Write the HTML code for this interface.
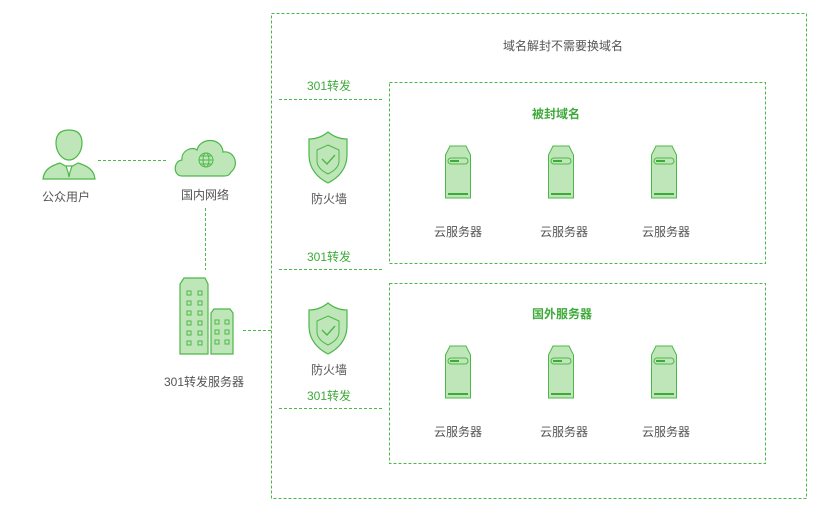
<!DOCTYPE html>
<html><head><meta charset="utf-8"><style>
html,body{margin:0;padding:0;background:#fff;}
svg{display:block;}
text{font-family:"Liberation Sans","Noto Sans CJK SC",sans-serif;font-size:12px;fill:#555;text-anchor:middle;}
.g{fill:#3daa3a;}
</style></head><body>
<svg width="840" height="515" viewBox="0 0 840 515" xmlns="http://www.w3.org/2000/svg">
<defs>
<g id="srv">
<path d="M0.5,10 L5,1 L21,1 L25.5,10 L25.5,53 L0.5,53 Z" fill="#bfe6b8" stroke="#4cb848" stroke-width="1"/>
<rect x="3" y="13" width="20" height="6" rx="3" fill="none" stroke="#4cb848"/>
<rect x="5" y="15" width="9" height="2" fill="#3daa3a"/>
<rect x="3" y="48" width="20" height="2" fill="#3daa3a"/>
</g>
<g id="shd">
<path d="M20,1 C26,6 33,8 39,8 L39,24 C39,38 30,47 20,52 C10,47 1,38 1,24 L1,8 C7,8 14,6 20,1 Z" fill="#bfe6b8" stroke="#4cb848" stroke-width="1.2"/>
<path d="M20,14 L31,19 L31,30 C31,36 26,40 20,43 C14,40 9,36 9,30 L9,19 Z" fill="none" stroke="#4cb848" stroke-width="1"/>
<path d="M14,28 L19,33 L27,24" fill="none" stroke="#4cb848" stroke-width="1.4"/>
</g>
</defs>
<g fill="none" stroke="#4cb848" stroke-width="1" stroke-dasharray="3,2">
<rect x="271.5" y="13.5" width="535" height="485"/>
<rect x="389.5" y="82.5" width="376" height="181"/>
<rect x="389.5" y="283.5" width="376" height="180"/>
<line x1="279" y1="99.5" x2="383" y2="99.5"/>
<line x1="279" y1="269.5" x2="383" y2="269.5"/>
<line x1="279" y1="408.5" x2="383" y2="408.5"/>
<line x1="98" y1="160.5" x2="166" y2="160.5"/>
<line x1="205.5" y1="208" x2="205.5" y2="270"/>
<line x1="243" y1="330.5" x2="271" y2="330.5"/>
</g>
<text x="563" y="50">域名解封不需要换域名</text>
<text x="556" y="118" class="g" style="font-weight:bold">被封域名</text>
<text x="562" y="318" class="g" style="font-weight:bold">国外服务器</text>
<text x="329" y="90" class="g">301转发</text>
<text x="329" y="261" class="g">301转发</text>
<text x="329" y="400" class="g">301转发</text>
<use href="#shd" x="308" y="131"/>
<use href="#shd" x="308" y="302"/>
<text x="329" y="203">防火墙</text>
<text x="329" y="374">防火墙</text>
<use href="#srv" x="445" y="145"/><use href="#srv" x="548" y="145"/><use href="#srv" x="651" y="145"/>
<use href="#srv" x="445" y="345"/><use href="#srv" x="548" y="345"/><use href="#srv" x="651" y="345"/>
<text x="458" y="236">云服务器</text><text x="564" y="236">云服务器</text><text x="666" y="236">云服务器</text>
<text x="458" y="436">云服务器</text><text x="564" y="436">云服务器</text><text x="666" y="436">云服务器</text>
<!-- user -->
<g fill="#bfe6b8" stroke="#4cb848" stroke-width="1.2">
<path d="M56,143 C56,133 62,130 69,130 C76,130 82,133 82,143 C82,152 76,160 69,160 C62,160 56,152 56,143 Z"/>
<path d="M43,179 C44,170 50,166 60,163 L69,168 L78,163 C88,166 94,170 95,179 Z"/>
<path d="M66,166 L72,166 L70,172 L69,177 L68,172 Z" fill="#fff"/>
</g>
<text x="66" y="201">公众用户</text>
<!-- cloud -->
<path d="M182,176 C173,176 173,161 182,160 C181,150 193,146 197,150 C200,137 222,137 223,152 C234,150 240,165 231,172 C229,176 226,176 224,176 Z" fill="#bfe6b8" stroke="#4cb848" stroke-width="1.2"/>
<g fill="none" stroke="#4cb848" stroke-width="1"><circle cx="206" cy="160" r="7"/><ellipse cx="206" cy="160" rx="3" ry="7"/><line x1="199" y1="160" x2="213" y2="160"/><line x1="200" y1="156" x2="212" y2="156"/><line x1="200" y1="164" x2="212" y2="164"/></g>
<text x="205" y="199">国内网络</text>
<!-- buildings -->
<g fill="#bfe6b8" stroke="#4cb848" stroke-width="1.2">
<path d="M180,284 L184,278 L205,278 L208,284 L208,354 L180,354 Z"/>
<path d="M211,313 L214,309 L230,309 L233,313 L233,354 L211,354 Z"/>
</g>
<g fill="none" stroke="#4cb848" stroke-width="1">
<rect x="187" y="291" width="4" height="4"/><rect x="198" y="291" width="4" height="4"/>
<rect x="187" y="301" width="4" height="4"/><rect x="198" y="301" width="4" height="4"/>
<rect x="187" y="311" width="4" height="4"/><rect x="198" y="311" width="4" height="4"/>
<rect x="187" y="321" width="4" height="4"/><rect x="198" y="321" width="4" height="4"/>
<rect x="187" y="331" width="4" height="4"/><rect x="198" y="331" width="4" height="4"/>
<rect x="187" y="341" width="4" height="4"/><rect x="198" y="341" width="4" height="4"/>
<rect x="215" y="320" width="4" height="4"/><rect x="225" y="320" width="4" height="4"/>
<rect x="215" y="330" width="4" height="4"/><rect x="225" y="330" width="4" height="4"/>
<rect x="215" y="340" width="4" height="4"/><rect x="225" y="340" width="4" height="4"/>
</g>
<text x="204" y="386">301转发服务器</text>
</svg>
</body></html>
